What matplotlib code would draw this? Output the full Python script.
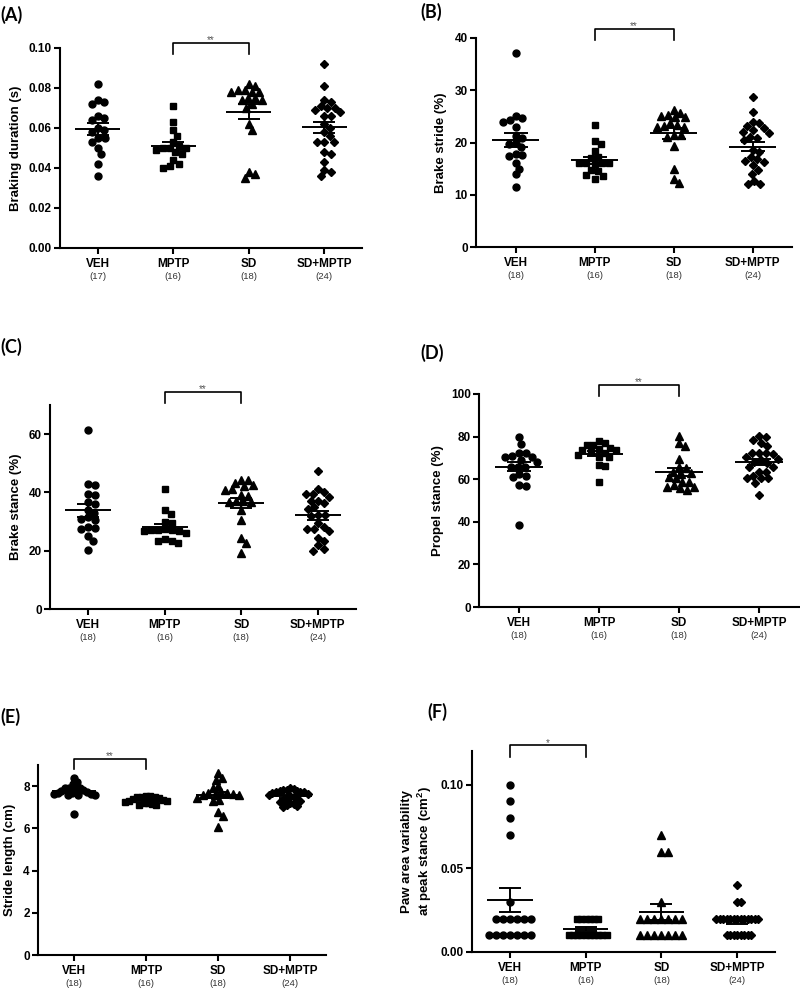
import matplotlib
matplotlib.use('Agg')
import matplotlib.pyplot as plt
import matplotlib.transforms as mtransforms
import numpy as np

plt.rcParams['font.family'] = ['Liberation Sans', 'DejaVu Sans']
plt.rcParams['font.weight'] = 'bold'
plt.rcParams['mathtext.default'] = 'regular'

groups = ['VEH', 'MPTP', 'SD', 'SD+MPTP']

# (A) braking duration (s)
a_veh = [0.082, 0.074, 0.073, 0.072, 0.066, 0.065, 0.064, 0.060, 0.059, 0.058, 0.055, 0.055, 0.053, 0.050, 0.047, 0.042, 0.036]
a_mptp = [0.071, 0.063, 0.059, 0.056, 0.053, 0.051, 0.050, 0.050, 0.050, 0.049, 0.048, 0.047, 0.044, 0.042, 0.041, 0.040]
a_sd = [0.082, 0.081, 0.079, 0.079, 0.078, 0.078, 0.078, 0.075, 0.075, 0.074, 0.074, 0.072, 0.070, 0.062, 0.059, 0.038, 0.037, 0.035]
a_sdmptp = [0.092, 0.081, 0.074, 0.073, 0.071, 0.070, 0.070, 0.069, 0.068, 0.066, 0.066, 0.062, 0.060, 0.058, 0.056,
            0.053, 0.053, 0.053, 0.048, 0.047, 0.043, 0.039, 0.038, 0.036]

# (B) brake stride (%)
b_veh = [37.2, 25.0, 24.6, 24.3, 24.0, 23.0, 21.3, 20.8, 19.9, 19.7, 19.2, 17.8, 17.6, 17.4, 16.1, 15.0, 13.9, 11.5]
b_mptp = [23.4, 20.2, 19.8, 18.4, 17.0, 17.2, 16.1, 15.9, 16.0, 16.0, 16.1, 14.8, 14.5, 13.8, 13.6, 13.1]
b_sd = [26.2, 25.7, 25.3, 25.0, 24.8, 24.8, 23.8, 23.4, 23.2, 23.0, 22.9, 21.4, 21.4, 21.1, 19.4, 15.0, 13.0, 12.2]
b_sdmptp = [28.8, 25.8, 24.0, 23.8, 23.1, 22.8, 22.3, 22.1, 21.9, 21.1, 20.9, 20.5, 18.6, 18.1, 17.3, 16.8,
            16.5, 16.2, 15.6, 14.7, 13.9, 12.6, 12.0, 12.0]

# (C) brake stance (%)
c_veh = [61.5, 42.9, 42.4, 39.4, 39.0, 36.6, 36.0, 34.1, 33.0, 31.4, 30.9, 30.6, 28.0, 27.8, 27.5, 24.9, 23.2, 20.3]
c_mptp = [41.1, 33.8, 32.7, 29.5, 29.8, 27.0, 26.9, 27.2, 27.4, 26.1, 26.9, 27.0, 23.5, 22.6, 23.4, 24.0]
c_sd = [44.3, 44.3, 43.2, 42.6, 42.1, 41.1, 40.9, 39.2, 38.9, 36.9, 36.9, 36.7, 36.7, 34.1, 30.4, 24.3, 22.6, 19.2]
c_sdmptp = [47.2, 41.3, 40.0, 39.5, 39.4, 38.6, 37.1, 37.1, 36.3, 35.0, 34.4, 32.3, 32.1, 32.0, 29.5, 28.3,
            27.5, 27.4, 26.6, 24.3, 23.2, 21.8, 20.7, 20.0]

# (D) propel stance (%)
d_veh = [79.7, 76.6, 72.2, 72.2, 71.1, 70.6, 70.6, 69.0, 68.3, 65.9, 65.9, 65.9, 62.5, 61.7, 60.9, 57.3, 57.0, 38.5]
d_mptp = [77.7, 76.9, 76.1, 76.1, 74.6, 74.1, 73.8, 73.0, 73.5, 72.5, 70.3, 71.4, 70.3, 66.7, 66.2, 58.9]
d_sd = [80.4, 76.9, 75.4, 69.4, 65.6, 65.1, 63.6, 62.5, 62.8, 61.2, 60.4, 58.9, 58.9, 57.3, 56.5, 56.5, 55.7, 54.9]
d_sdmptp = [80.1, 79.7, 78.5, 76.9, 75.7, 72.2, 72.2, 72.2, 71.9, 70.6, 69.4, 69.0, 68.3, 67.5, 65.9, 65.9,
            63.6, 63.6, 61.7, 60.4, 60.4, 60.4, 58.4, 52.6]

# (E) stride length (cm)
e_veh = [8.39, 8.19, 8.08, 7.92, 7.92, 7.89, 7.84, 7.80, 7.76, 7.72, 7.68, 7.68, 7.65, 7.62, 7.60, 7.60, 7.60, 6.69]
e_mptp = [7.52, 7.52, 7.50, 7.50, 7.48, 7.45, 7.40, 7.35, 7.30, 7.28, 7.25, 7.22, 7.20, 7.15, 7.12, 7.10]
e_sd = [8.63, 8.39, 8.31, 8.00, 7.92, 7.70, 7.68, 7.68, 7.65, 7.60, 7.60, 7.60, 7.45, 7.35, 7.29, 6.77, 6.58, 6.06]
e_sdmptp = [7.90, 7.85, 7.82, 7.80, 7.78, 7.75, 7.72, 7.70, 7.70, 7.68, 7.65, 7.60, 7.55, 7.50, 7.45, 7.40,
            7.35, 7.30, 7.25, 7.20, 7.15, 7.10, 7.05, 7.00]

# (F) paw area variability at peak stance (cm2)
f_veh = [0.10, 0.09, 0.08, 0.07, 0.03, 0.02, 0.02, 0.02, 0.02, 0.02, 0.02, 0.01, 0.01, 0.01, 0.01, 0.01, 0.01, 0.01]
f_mptp = [0.02, 0.02, 0.02, 0.02, 0.02, 0.02, 0.01, 0.01, 0.01, 0.01, 0.01, 0.01, 0.01, 0.01, 0.01, 0.01]
f_sd = [0.07, 0.06, 0.06, 0.03, 0.02, 0.02, 0.02, 0.02, 0.02, 0.02, 0.02, 0.01, 0.01, 0.01, 0.01, 0.01, 0.01, 0.01]
f_sdmptp = [0.04, 0.03, 0.03] + [0.02] * 13 + [0.01] * 8

panel_data = [
    [a_veh, a_mptp, a_sd, a_sdmptp],
    [b_veh, b_mptp, b_sd, b_sdmptp],
    [c_veh, c_mptp, c_sd, c_sdmptp],
    [d_veh, d_mptp, d_sd, d_sdmptp],
    [e_veh, e_mptp, e_sd, e_sdmptp],
    [f_veh, f_mptp, f_sd, f_sdmptp],
]
panel_letters = ['(A)', '(B)', '(C)', '(D)', '(E)', '(F)']
y_labels = ['Braking duration (s)', 'Brake stride (%)', 'Brake stance (%)', 'Propel stance (%)',
            'Stride length (cm)', 'Paw area variability\nat peak stance (cm$^{2}$)']
y_tops = [0.10, 40, 70, 100, 9, 0.12]
y_ticks = [[0, 0.02, 0.04, 0.06, 0.08, 0.10], [0, 10, 20, 30, 40], [0, 20, 40, 60],
           [0, 20, 40, 60, 80, 100], [0, 2, 4, 6, 8], [0, 0.05, 0.10]]
y_fmt = ['{:.2f}', '{:.0f}', '{:.0f}', '{:.0f}', '{:.0f}', '{:.2f}']
sig_pairs = [(1, 2), (1, 2), (1, 2), (1, 2), (0, 1), (0, 1)]
sig_marks = ['**', '**', '**', '**', '**', '*']

# layout in pixels: left, top, right, bottom of each axes
W, H = 800, 989
axes_px = [(60, 48, 362, 248), (476, 38, 792, 247), (50, 405, 356, 609),
           (479, 394, 799, 607), (38, 765, 326, 955), (472, 751, 775, 952)]
bracket_y = [(1.025, 0.97), (1.045, 0.99), (1.065, 1.011), (1.044, 0.989), (1.031, 0.98), (1.028, 0.97)]
letter_px = [(0, 15), (420, 12), (0, 347), (420, 353), (0, 717), (427, 712)]
markers = ['o', 's', '^', 'D']
marker_sizes = [5.0, 4.4, 5.6, 4.2]


def swarm_offsets(ax, vals, d_px=7.0, maxw_px=21.0):
    ypx = ax.transData.transform(np.column_stack([np.zeros(len(vals)), vals]))[:, 1]
    order = np.argsort(-ypx, kind='stable')
    xs = np.zeros(len(vals))
    placed = []
    for i in order:
        y = ypx[i]
        cands = [0.0]
        for px, py in placed:
            dy = abs(y - py)
            if dy < d_px:
                dx = np.sqrt(d_px ** 2 - dy ** 2)
                cands += [px + dx, px - dx]
        cands.sort(key=abs)
        for c in cands:
            if all((c - px) ** 2 + (y - py) ** 2 >= d_px ** 2 - 1e-6 for px, py in placed):
                xs[i] = c
                break
        placed.append((xs[i], y))
    m = np.abs(xs).max()
    if m > maxw_px:
        xs *= maxw_px / m
    unit_px = ax.transData.transform([(1, 0)])[0, 0] - ax.transData.transform([(0, 0)])[0, 0]
    return xs / unit_px, unit_px


fig = plt.figure(figsize=(W / 100, H / 100), dpi=100)

for p in range(6):
    l, t, r, b = axes_px[p]
    ax = fig.add_axes([l / W, 1 - b / H, (r - l) / W, (b - t) / H])
    ax.set_xlim(-0.5, 3.5)
    ax.set_ylim(0, y_tops[p])
    for side in ['top', 'right']:
        ax.spines[side].set_visible(False)
    for side in ['left', 'bottom']:
        ax.spines[side].set_linewidth(1.5)

    for i, vals in enumerate(panel_data[p]):
        vals = np.array(vals)
        off, unit_px = swarm_offsets(ax, vals)
        ax.plot(i + off, vals, ls='none', marker=markers[i], ms=marker_sizes[i],
                color='black', mec='black', zorder=3, clip_on=False)
        mean = vals.mean()
        sem = vals.std(ddof=1) / np.sqrt(len(vals))
        ax.hlines(mean, i - 0.3, i + 0.3, color='black', lw=1.4, zorder=4)
        ax.errorbar(i, mean, yerr=sem, fmt='none', ecolor='black', elinewidth=1.4,
                    capsize=0.15 * unit_px * 0.72, capthick=1.4, zorder=4)
        ax.annotate(f'({len(vals)})', xy=(i, 0), xycoords=('data', 'axes fraction'),
                    xytext=(0, -17.5), textcoords='offset points', ha='center', va='top',
                    fontsize=6.8, fontweight='normal', color='#333333')

    ax.set_xticks(range(4))
    ax.set_xticklabels(groups)
    ax.set_yticks(y_ticks[p])
    ax.set_yticklabels([y_fmt[p].format(v) for v in y_ticks[p]])
    ax.tick_params(axis='both', width=1.5, length=4, labelsize=8.5)
    ax.tick_params(axis='x', pad=3.5)
    ax.tick_params(axis='y', pad=2)
    ax.set_ylabel(y_labels[p], fontsize=9.5, fontweight='bold', labelpad=5)

    # significance bracket
    x1, x2 = sig_pairs[p]
    yt, yb = bracket_y[p]
    trans = mtransforms.blended_transform_factory(ax.transData, ax.transAxes)
    ax.plot([x1, x1, x2, x2], [yb, yt, yt, yb], color='black', lw=1.2,
            transform=trans, clip_on=False)
    ax.text((x1 + x2) / 2, yt - 0.012, sig_marks[p], transform=trans, ha='center',
            va='bottom', fontsize=7, fontweight='normal', color='#555555')

    lx, ly = letter_px[p]
    fig.text(lx / W, 1 - ly / H, panel_letters[p], fontsize=13, fontweight='bold',
             family='Lato', ha='left', va='center')

fig.savefig('out.png', dpi=100)
